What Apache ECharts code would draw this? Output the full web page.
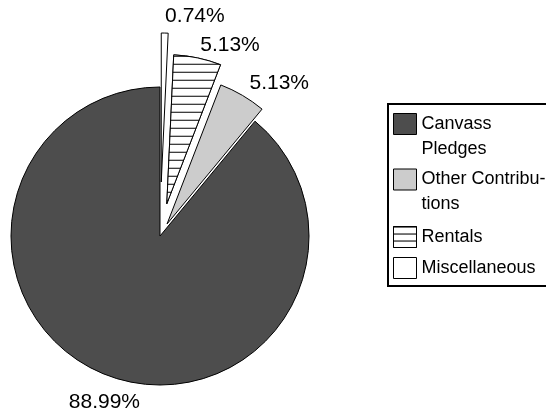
<!DOCTYPE html>
<html>
<head>
<meta charset="utf-8">
<script src="https://cdn.jsdelivr.net/npm/echarts@6/dist/echarts.min.js"></script>
<style>html,body{margin:0;padding:0;background:#fff}#chart{width:546px;height:415px}</style>
</head>
<body>
<div id="chart"></div>
<script>
// ---- data ----
const categories = ['Canvass Pledges', 'Other Contributions', 'Rentals', 'Miscellaneous'];
const values = [88.99, 5.13, 5.13, 0.74];
const legendLabels = ['Canvass\nPledges', 'Other Contribu-\ntions', 'Rentals', 'Miscellaneous'];

// ---- styles / layout ----
const FONT = '"Liberation Sans", Arial, sans-serif';
const hatch = { symbol: 'rect', symbolSize: 1, dashArrayX: [5, 0], dashArrayY: [1, 7], rotation: 0, color: '#000', backgroundColor: '#fff' };
const hatchSmall = { symbol: 'rect', symbolSize: 1, dashArrayX: [5, 0], dashArrayY: [1, 6], rotation: 0, color: '#000', backgroundColor: '#fff' };
const sliceStyles = [
  { color: '#4d4d4d', borderColor: '#000', borderWidth: 1 },
  { color: '#cccccc', borderColor: '#000', borderWidth: 1 },
  { color: '#ffffff', borderColor: '#000', borderWidth: 1, decal: hatch },
  { color: '#ffffff', borderColor: '#000', borderWidth: 1 }
];
const legendIconStyles = [
  { color: '#4d4d4d', borderColor: '#000', borderWidth: 1 },
  { color: '#cccccc', borderColor: '#000', borderWidth: 1 },
  { color: '#ffffff', borderColor: '#000', borderWidth: 1, decal: hatchSmall },
  { color: '#ffffff', borderColor: '#000', borderWidth: 1 }
];
const explode = [0, 14, 33, 54];
const labelLineLens = [[28, -40], [14, 0], [13, 0], [17, 0]];
const legendTop = [86.5, 142, 224.5, 255.5];

function makeSeries(k) {
  return {
    type: 'pie',
    name: 'slice' + k,
    center: [160, 236],
    radius: 149,
    startAngle: 90,
    clockwise: false,
    selectedMode: 'multiple',
    selectedOffset: explode[k],
    avoidLabelOverlap: false,
    labelLayout: { hideOverlap: false },
    animation: false,
    emphasis: { disabled: true },
    label: { show: true, position: 'outside', formatter: '{c}%', color: '#000', fontSize: 21, fontFamily: FONT, distanceToLabelLine: 0 },
    labelLine: { show: false, length: labelLineLens[k][0], length2: labelLineLens[k][1] },
    data: categories.map((name, i) => ({
      name: name,
      value: values[i],
      selected: i === k && explode[k] > 0,
      itemStyle: i === k ? sliceStyles[i] : { color: 'rgba(0,0,0,0)', borderWidth: 0 },
      label: { show: i === k }
    }))
  };
}

const chart = echarts.init(document.getElementById('chart'));
chart.setOption({
  backgroundColor: '#ffffff',
  animation: false,
  graphic: [{
    type: 'rect',
    shape: { x: 388, y: 104, width: 170, height: 182 },
    style: { fill: 'none', stroke: '#000', lineWidth: 2 },
    z: 0
  }],
  legend: categories.map((name, i) => ({
    left: 393,
    top: legendTop[i],
    orient: 'vertical',
    padding: 0,
    itemWidth: 23,
    itemHeight: 21,
    icon: 'rect',
    selectedMode: false,
    // multi-line names get a leading blank line so the first line sits beside the icon
    formatter: () => (legendLabels[i].indexOf('\n') >= 0 ? '\n' : '') + legendLabels[i],
    textStyle: { fontSize: 18, lineHeight: 25, color: '#000', fontFamily: FONT },
    data: [{ name: name, itemStyle: legendIconStyles[i] }]
  })),
  series: categories.map((_, k) => makeSeries(k))
});
</script>
</body>
</html>
